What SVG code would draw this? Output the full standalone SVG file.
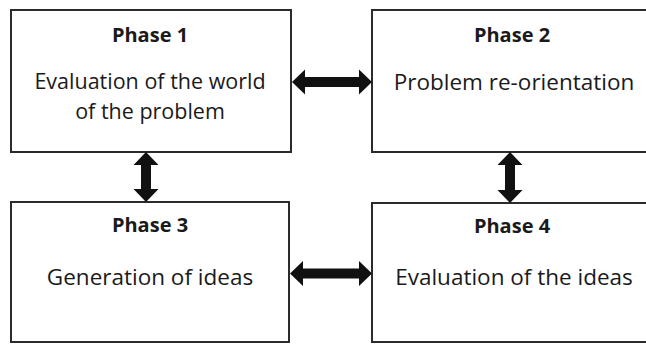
<svg xmlns="http://www.w3.org/2000/svg" width="646" height="344" viewBox="0 0 646 344">
  <style>
    .box { fill: #ffffff; stroke: #2b2b2b; stroke-width: 2; }
    .title { font-family: "Open Sans", "Liberation Sans", sans-serif; font-weight: bold; font-size: 20px; fill: #1a1a1a; text-anchor: middle; }
    .body { font-family: "Open Sans", "Liberation Sans", sans-serif; font-size: 22.5px; fill: #1a1a1a; text-anchor: middle; }
    .body2 { font-size: 21.5px; }
    .arrow { fill: #111111; }
  </style>
  <rect x="0" y="0" width="646" height="344" fill="#ffffff"/>

  <g id="phase1">
    <rect class="box" x="11" y="10" width="280" height="142"/>
    <text class="title" x="150" y="42">Phase 1</text>
    <text class="body body2" x="150" y="89">Evaluation of the world</text>
    <text class="body body2" x="150" y="118.5">of the problem</text>
  </g>

  <g id="phase2">
    <rect class="box" x="372" y="10" width="290" height="142"/>
    <text class="title" x="512" y="42">Phase 2</text>
    <text class="body" x="514" y="90">Problem re-orientation</text>
  </g>

  <g id="phase3">
    <rect class="box" x="11" y="202" width="278" height="140"/>
    <text class="title" x="150" y="232">Phase 3</text>
    <text class="body" x="150" y="285">Generation of ideas</text>
  </g>

  <g id="phase4">
    <rect class="box" x="372" y="203" width="290" height="139"/>
    <text class="title" x="512" y="233">Phase 4</text>
    <text class="body" x="514" y="285">Evaluation of the ideas</text>
  </g>

  <g id="connectors">
    <!-- Phase 1 <-> Phase 2 -->
    <polygon class="arrow" points="292,82 305,69.5 305,77 359,77 359,69.5 372,82 359,94.5 359,87 305,87 305,94.5"/>
    <!-- Phase 1 <-> Phase 3 -->
    <polygon class="arrow" points="146,152 158.5,165 151,165 151,189 158.5,189 146,202 133.5,189 141,189 141,165 133.5,165"/>
    <!-- Phase 2 <-> Phase 4 -->
    <polygon class="arrow" points="510,152 522.5,165 515,165 515,190 522.5,190 510,203 497.5,190 505,190 505,165 497.5,165"/>
    <!-- Phase 3 <-> Phase 4 -->
    <polygon class="arrow" points="290,273.5 303,261 303,268.5 359,268.5 359,261 372,273.5 359,286 359,278.5 303,278.5 303,286"/>
  </g>
</svg>
